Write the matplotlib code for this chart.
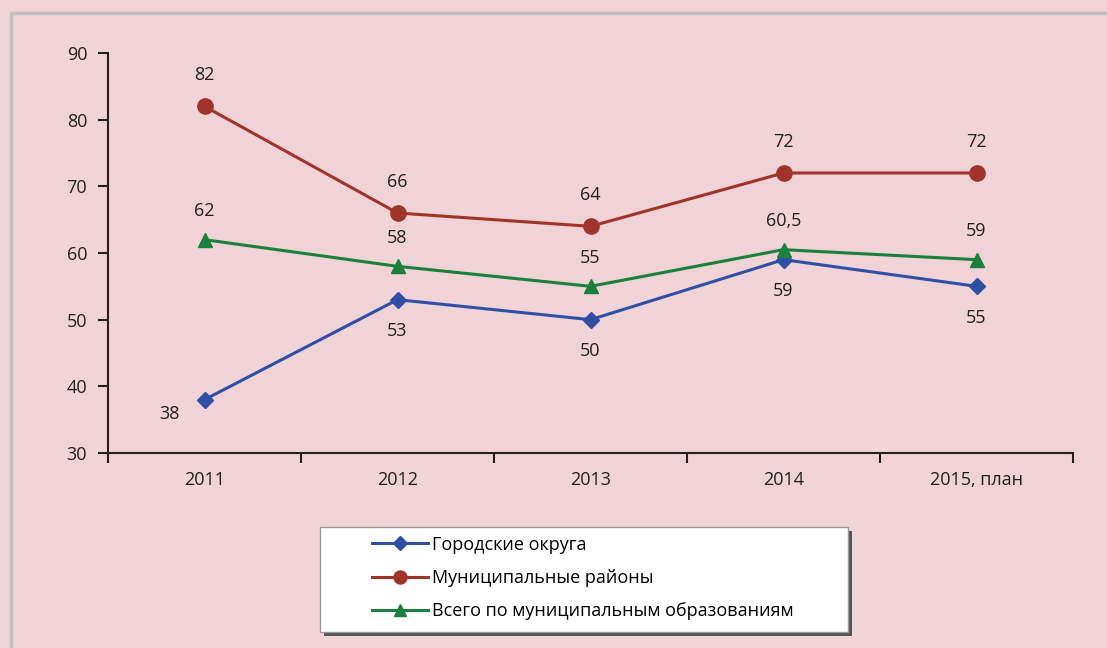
import numpy as np
import matplotlib.pyplot as plt
from matplotlib.patches import Rectangle

plt.rcParams['font.family'] = ['Open Sans', 'DejaVu Sans']

# data
years = ['2011', '2012', '2013', '2014', '2015, план']
gorod = [38, 53, 50, 59, 55]
munic = [82, 66, 64, 72, 72]
vsego = [62, 58, 55, 60.5, 59]
vsego_lbl = ['62', '58', '55', '60,5', '59']

bg = '#f0d3d6'
c_blue = '#2f4ea6'
c_red = '#a0332a'
c_green = '#1b7f3d'

W, H = 1107, 648
fig = plt.figure(figsize=(W/100, H/100), dpi=100, facecolor=bg)
ax = fig.add_axes([108/W, 1-453/H, 965/W, 400/H])
ax.set_facecolor(bg)

# outer frame
fig.patches.append(Rectangle((11/W, -0.1), 1.2, 1-13/H+0.1, transform=fig.transFigure,
                             fill=False, edgecolor='#bfbfbf', linewidth=2.5))

x = np.arange(len(years))
l1, = ax.plot(x, gorod, color=c_blue, lw=2.2, marker='D', ms=8, label='Городские округа')
l2, = ax.plot(x, munic, color=c_red, lw=2.2, marker='o', ms=11, label='Муниципальные районы')
l3, = ax.plot(x, vsego, color=c_green, lw=2.2, marker='^', ms=10, label='Всего по муниципальным образованиям')

fs = 13
tc = '#231f20'
for i in range(len(x)):
    ax.annotate(str(munic[i]), (x[i], munic[i]), xytext=(0, 16), textcoords='offset points',
                ha='center', va='bottom', fontsize=fs, color=tc)
    ax.annotate(vsego_lbl[i], (x[i], vsego[i]), xytext=(0, 14), textcoords='offset points',
                ha='center', va='bottom', fontsize=fs, color=tc)
    if i == 0:
        ax.annotate(str(gorod[i]), (x[i], gorod[i]), xytext=(-25, -4), textcoords='offset points',
                    ha='center', va='top', fontsize=fs, color=tc)
    else:
        ax.annotate(str(gorod[i]), (x[i], gorod[i]), xytext=(0, -16), textcoords='offset points',
                    ha='center', va='top', fontsize=fs, color=tc)

ax.set_xlim(-0.5, 4.5)
ax.set_ylim(30, 90)
ax.set_yticks(np.arange(30, 91, 10))
ax.set_xticks(x)
ax.set_xticklabels(years)
ax.set_xticks(np.arange(-0.5, 4.6, 1), minor=True)
ax.tick_params(axis='x', which='major', length=0, pad=13, labelsize=fs, labelcolor=tc)
ax.tick_params(axis='x', which='minor', length=7, width=1.5, color=tc, direction='out')
ax.tick_params(axis='y', length=7, width=1.5, color=tc, labelsize=fs, labelcolor=tc, pad=8)
for s in ['top', 'right']:
    ax.spines[s].set_visible(False)
for s in ['left', 'bottom']:
    ax.spines[s].set_color(tc)
    ax.spines[s].set_linewidth(1.5)

# legend box with shadow
bx0, by0, bx1, by1 = 320, 527, 848, 632
fig.patches.append(Rectangle(((bx0+4)/W, 1-(by1+4)/H), (bx1-bx0)/W, (by1-by0)/H,
                             transform=fig.transFigure, facecolor='#555555', edgecolor='none', zorder=1))
fig.patches.append(Rectangle((bx0/W, 1-by1/H), (bx1-bx0)/W, (by1-by0)/H,
                             transform=fig.transFigure, facecolor='white', edgecolor='#999999',
                             linewidth=1, zorder=2))

leg = fig.legend(handles=[l1, l2, l3], loc='center left', bbox_to_anchor=(372/W, 1-578/H),
                 fontsize=13, frameon=False, labelspacing=0.85,
                 handlelength=3.1, borderpad=0, handletextpad=0.2, borderaxespad=0)
leg.set_zorder(3)
for h in leg.legend_handles:
    h.set_markersize(h.get_markersize() * 0.85)

fig.savefig('out.png', dpi=100, facecolor=bg)
